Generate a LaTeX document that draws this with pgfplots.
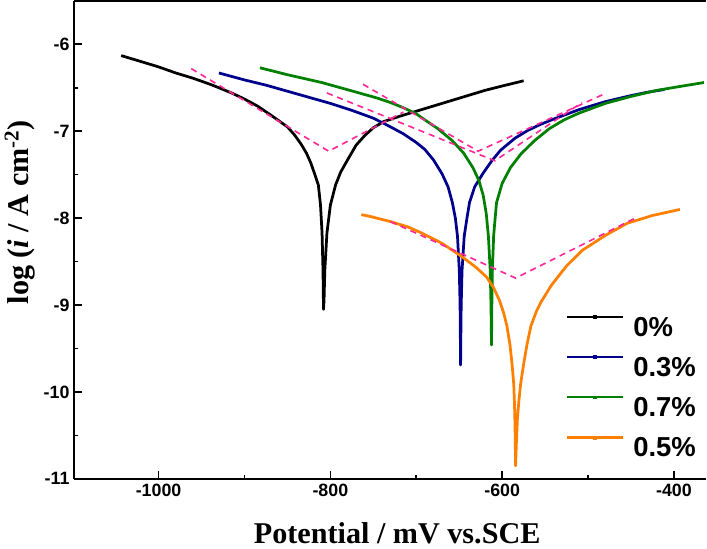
\documentclass[border=0pt]{standalone}
\usepackage{fontspec}
\setmainfont{Liberation Serif}
\setsansfont{Liberation Sans}
\usepackage{pgfplots}
\pgfplotsset{compat=1.18}

\definecolor{cBlack}{RGB}{0,0,0}
\definecolor{cBlue}{RGB}{0,0,140}
\definecolor{cGreen}{RGB}{0,128,0}
\definecolor{cOrange}{RGB}{255,128,0}
\definecolor{cTafel}{RGB}{255,40,150}

\begin{document}
\begin{tikzpicture}
\begin{axis}[
    scale only axis, width=460.7pt, height=348.5pt,
    xmin=-1098.2, xmax=-362.5, ymin=-11, ymax=-5.5,
    axis x line*=box, axis y line*=left,
    xtick={-1000,-800,-600,-400}, xticklabels={-1000,-800,-600,-400},
    minor xtick={-900,-700,-500},
    ytick={-11,-10,-9,-8,-7,-6}, yticklabels={-11,-10,-9,-8,-7,-6},
    minor ytick={-10.5,-9.5,-8.5,-7.5,-6.5},
    xtick pos=bottom, ytick pos=left, tick align=inside,
    major tick length=6pt, minor tick length=2.5pt,
    every tick/.style={black, line width=1.2pt},
    axis line style={line width=1.25pt},
    ticklabel style={font=\sffamily\bfseries\fontsize{13}{15}\selectfont},
    xlabel={Potential / mV vs.SCE},
    ylabel={log (\textit{i} / A cm\textsuperscript{-2})},
    label style={font=\rmfamily\bfseries\fontsize{22}{26}\selectfont},
    xlabel style={at={(axis description cs:0.511,-0.1347)}, anchor=base},
    ylabel style={at={(axis description cs:-0.0858,0.558)}, anchor=center},
    legend style={at={(axis description cs:0.9837,0.3426)}, anchor=north east,
        draw=none, fill=none, inner sep=0pt, outer sep=0pt,
        font=\sffamily\bfseries\fontsize{20}{24}\selectfont,
        row sep=14pt, column sep=6.75pt,
        nodes={inner sep=0pt, text height=14.3pt, text depth=0pt}},
    legend cell align=left,
    legend image code/.code={
        \draw[#1, line width=1.5pt] (0pt,7pt) -- (41pt,7pt);
        \fill[#1] (19.5pt,6pt) rectangle (21.5pt,8pt);},
    curve/.style={line width=2pt, line join=round, forget plot},
    tafel/.style={cTafel, line width=1.2pt, dash pattern=on 4.5pt off 3.5pt, forget plot},
]
% 0%
\addplot[curve, cBlack] coordinates {
 (-1043.6,-6.13) (-1020,-6.20) (-1000,-6.26) (-980,-6.33) (-960,-6.39)
 (-940,-6.46) (-929.8,-6.50) (-915,-6.56) (-900,-6.63) (-885,-6.71)
 (-870,-6.81) (-860,-6.88) (-850,-6.95) (-842,-7.04) (-834,-7.15)
 (-828,-7.25) (-823,-7.36) (-818,-7.50) (-814,-7.62) (-811.5,-7.85)
 (-809.7,-8.17) (-808.6,-8.6) (-808.2,-8.9) (-808.0,-9.05) (-807.4,-8.95)
 (-806.5,-8.6) (-804,-8.17) (-800,-7.85) (-794,-7.62) (-788,-7.47)
 (-780,-7.33) (-770,-7.16) (-760,-7.05) (-750,-6.96) (-738,-6.89)
 (-720,-6.83) (-700,-6.77) (-680,-6.71) (-660,-6.65) (-640,-6.59)
 (-620,-6.53) (-600,-6.48) (-575,-6.42)
};
% 0.3%
\addplot[curve, cBlue] coordinates {
 (-929.8,-6.33) (-900,-6.41) (-875,-6.47) (-850,-6.54) (-825,-6.61)
 (-800,-6.68) (-775,-6.76) (-750,-6.85) (-730,-6.95) (-715,-7.03)
 (-700,-7.13) (-690,-7.21) (-680,-7.33) (-670,-7.49) (-663,-7.64)
 (-658,-7.82) (-654.5,-8.0) (-652,-8.21) (-649.9,-8.6) (-649.0,-9.0)
 (-648.4,-9.69) (-648.05,-9.3) (-647.7,-9.0) (-646.7,-8.6) (-644.2,-8.21)
 (-641,-8.0) (-638,-7.82) (-632,-7.64) (-622,-7.48) (-612,-7.34)
 (-602,-7.22) (-585,-7.08) (-570,-6.99) (-555,-6.92) (-540,-6.86)
 (-510,-6.75) (-480,-6.66) (-450,-6.59) (-430,-6.55) (-411,-6.52)
};
% 0.7%
\addplot[curve, cGreen] coordinates {
 (-882,-6.27) (-850,-6.35) (-810,-6.44) (-770,-6.55) (-745,-6.62)
 (-730,-6.67) (-715,-6.73) (-700,-6.80) (-690,-6.87) (-675,-6.97)
 (-658,-7.11) (-645,-7.25) (-634,-7.42) (-627,-7.57) (-622,-7.74)
 (-618.5,-7.95) (-616,-8.21) (-613.9,-8.6) (-613.0,-9.0) (-612.4,-9.46)
 (-612.0,-9.0) (-611.4,-8.6) (-609.9,-8.2) (-608,-7.98) (-606.5,-7.82)
 (-600,-7.6) (-590.4,-7.42) (-578,-7.26) (-562.5,-7.11) (-545,-6.97)
 (-528,-6.87) (-510,-6.79) (-480,-6.68) (-450,-6.60) (-420,-6.53)
 (-390,-6.48) (-365,-6.44)
};
% 0.5%
\addplot[curve, cOrange] coordinates {
 (-764,-7.96) (-754,-7.98) (-730,-8.04) (-710,-8.10) (-694,-8.17)
 (-670,-8.29) (-646,-8.45) (-630,-8.57) (-618,-8.68) (-610,-8.80)
 (-603,-8.95) (-598,-9.10) (-594.5,-9.24) (-591,-9.45) (-588.5,-9.68)
 (-586.5,-9.91) (-585.6,-10.15) (-585,-10.4) (-584.7,-10.6) (-584.4,-10.85)
 (-583.5,-10.6) (-582.2,-10.3) (-580.5,-10.1) (-578.5,-9.91) (-575,-9.68)
 (-571,-9.45) (-566.5,-9.24) (-560,-9.07) (-555,-8.97) (-542.5,-8.77)
 (-525,-8.55) (-506.6,-8.37) (-480,-8.20) (-454.7,-8.06) (-425,-7.97)
 (-393,-7.90)
};
% Tafel extrapolation lines
\addplot[tafel] coordinates {(-962,-6.28) (-802,-7.23) (-715,-6.78)};
\addplot[tafel] coordinates {(-762,-6.46) (-628,-7.23) (-483,-6.58)};
\addplot[tafel] coordinates {(-804,-6.56) (-608.6,-7.34) (-507,-6.67)};
\addplot[tafel] coordinates {(-730,-8.04) (-584.4,-8.69) (-445,-8.00)};

\addlegendimage{cBlack}
\addlegendentry{0\%}
\addlegendimage{cBlue}
\addlegendentry{0.3\%}
\addlegendimage{cGreen}
\addlegendentry{0.7\%}
\addlegendimage{cOrange}
\addlegendentry{0.5\%}

\path (axis description cs:-0.1509,-0.1513) rectangle (axis description cs:1,1.0237);
\end{axis}
\end{tikzpicture}
\end{document}
